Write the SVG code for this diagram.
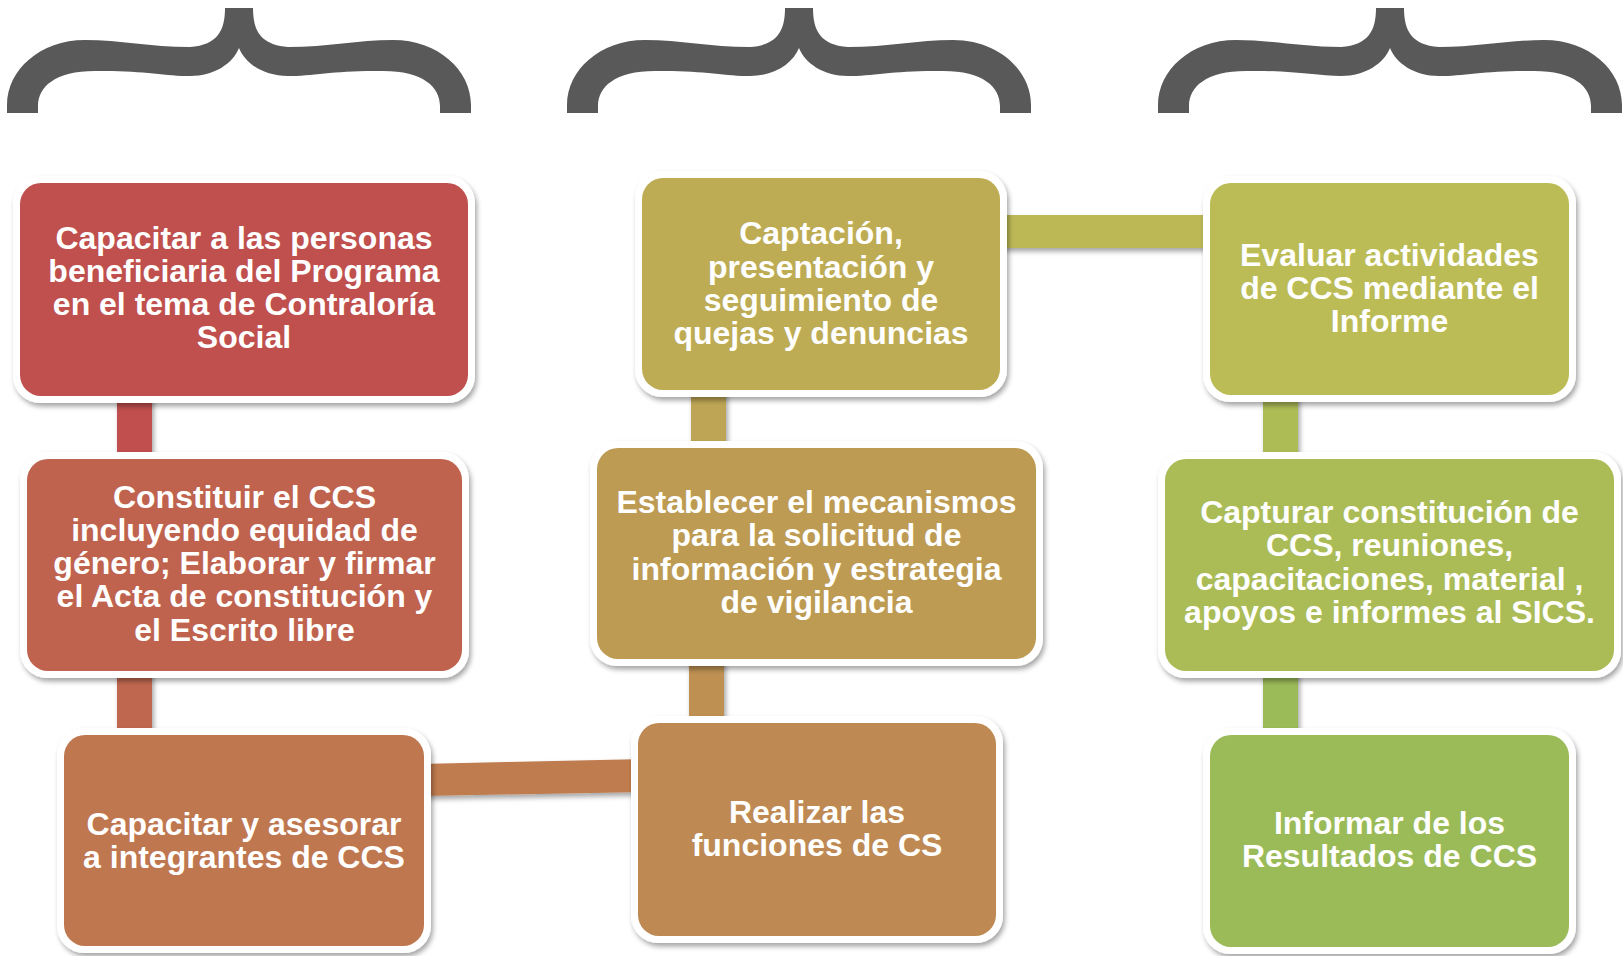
<svg xmlns="http://www.w3.org/2000/svg" width="1623" height="956" viewBox="0 0 1623 956">
<defs>
<style>
.t{font-family:"Liberation Sans",Arial,sans-serif;font-weight:bold;font-size:32px;fill:#ffffff;text-anchor:middle}
.w{fill:#ffffff}
.br{fill:#595959}
</style>
<filter id="sh" x="-10%" y="-10%" width="120%" height="125%">
<feDropShadow dx="2" dy="3.5" stdDeviation="2.5" flood-color="#000000" flood-opacity="0.35"/>
</filter>
<path id="brace" d="M225 8 L253 8 C253 30 260 45 288 47 C328 47 358 40 393 40 C438 40 471 70 471 105 L471 113 L440 113 L440 106 C440 87 423 71 383 71 C338 70 313 76 288 76 C263 76 245 63 239 48 C233 63 215 76 190 76 C165 76 140 70 95 71 C55 71 38 87 38 106 L38 113 L7 113 L7 105 C7 70 40 40 85 40 C120 40 150 47 190 47 C218 45 225 30 225 8 Z"/>
</defs>
<rect width="1623" height="956" fill="#ffffff"/>
<g id="braces" class="br">
<use href="#brace"/>
<use href="#brace" transform="translate(560 0)"/>
<use href="#brace" transform="translate(1151 0)"/>
</g>
<g id="connectors" filter="url(#sh)">
<rect x="117" y="390" width="35" height="75" fill="#C0504D"/>
<rect x="117" y="665" width="35" height="76" fill="#BF674F"/>
<polygon points="420,764 645,759 645,792 420,796" fill="#BF7C50"/>
<rect x="689" y="655" width="35" height="75" fill="#BE9152"/>
<rect x="691" y="385" width="35" height="70" fill="#BDA554"/>
<rect x="995" y="215" width="220" height="33" fill="#BCB856"/>
<rect x="1263" y="390" width="35" height="75" fill="#AEBC57"/>
<rect x="1263" y="665" width="35" height="76" fill="#9BBB59"/>
</g>
<g id="n1">
<rect class="w" x="13" y="176" width="462" height="227" rx="27" filter="url(#sh)"/>
<rect x="20" y="183" width="448" height="213" rx="21" fill="#C0504D"/>
<text class="t"><tspan x="244" y="249">Capacitar a las personas</tspan><tspan x="244" y="282">beneficiaria del Programa</tspan><tspan x="244" y="315">en el tema de Contraloría</tspan><tspan x="244" y="348">Social</tspan></text>
</g>
<g id="n2">
<rect class="w" x="20" y="452" width="449" height="226" rx="27" filter="url(#sh)"/>
<rect x="27" y="459" width="435" height="212" rx="21" fill="#BF634E"/>
<text class="t"><tspan x="244.5" y="508">Constituir el CCS</tspan><tspan x="244.5" y="541">incluyendo equidad de</tspan><tspan x="244.5" y="574">género; Elaborar y firmar</tspan><tspan x="244.5" y="607">el Acta de constitución y</tspan><tspan x="244.5" y="641">el Escrito libre</tspan></text>
</g>
<g id="n3">
<rect class="w" x="57" y="728" width="374" height="225" rx="27" filter="url(#sh)"/>
<rect x="64" y="735" width="360" height="211" rx="21" fill="#BF7750"/>
<text class="t"><tspan x="244" y="835">Capacitar y asesorar</tspan><tspan x="244" y="868">a integrantes de CCS</tspan></text>
</g>
<g id="n4">
<rect class="w" x="631" y="716" width="372" height="227" rx="27" filter="url(#sh)"/>
<rect x="638" y="723" width="358" height="213" rx="21" fill="#BE8952"/>
<text class="t"><tspan x="817" y="823">Realizar las</tspan><tspan x="817" y="856">funciones de CS</tspan></text>
</g>
<g id="n5">
<rect class="w" x="590" y="441" width="453" height="225" rx="27" filter="url(#sh)"/>
<rect x="597" y="448" width="439" height="211" rx="21" fill="#BD9B53"/>
<text class="t"><tspan x="816.5" y="513">Establecer el mecanismos</tspan><tspan x="816.5" y="546">para la solicitud de</tspan><tspan x="816.5" y="580">información y estrategia</tspan><tspan x="816.5" y="613">de vigilancia</tspan></text>
</g>
<g id="n6">
<rect class="w" x="635" y="171" width="372" height="226" rx="27" filter="url(#sh)"/>
<rect x="642" y="178" width="358" height="212" rx="21" fill="#BDAC54"/>
<text class="t"><tspan x="821" y="244">Captación,</tspan><tspan x="821" y="278">presentación y</tspan><tspan x="821" y="311">seguimiento de</tspan><tspan x="821" y="344">quejas y denuncias</tspan></text>
</g>
<g id="n7">
<rect class="w" x="1203" y="176" width="373" height="226" rx="27" filter="url(#sh)"/>
<rect x="1210" y="183" width="359" height="212" rx="21" fill="#BCBC56"/>
<text class="t"><tspan x="1389.5" y="266">Evaluar actividades</tspan><tspan x="1389.5" y="299">de CCS mediante el</tspan><tspan x="1389.5" y="332">Informe</tspan></text>
</g>
<g id="n8">
<rect class="w" x="1158" y="452" width="463" height="226" rx="27" filter="url(#sh)"/>
<rect x="1165" y="459" width="449" height="212" rx="21" fill="#ABBC57"/>
<text class="t"><tspan x="1389.5" y="523">Capturar constitución de</tspan><tspan x="1389.5" y="556">CCS, reuniones,</tspan><tspan x="1389.5" y="590">capacitaciones, material ,</tspan><tspan x="1389.5" y="623">apoyos e informes al SICS.</tspan></text>
</g>
<g id="n9">
<rect class="w" x="1203" y="728" width="373" height="226" rx="27" filter="url(#sh)"/>
<rect x="1210" y="735" width="359" height="212" rx="21" fill="#9BBB59"/>
<text class="t"><tspan x="1389.5" y="834">Informar de los</tspan><tspan x="1389.5" y="867">Resultados de CCS</tspan></text>
</g>
</svg>
